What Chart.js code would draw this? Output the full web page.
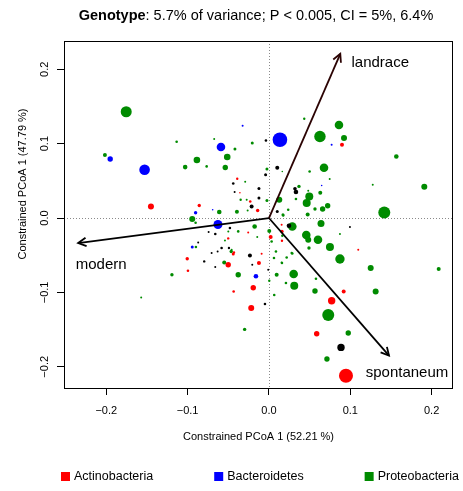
<!DOCTYPE html>
<html>
<head>
<meta charset="utf-8">
<script src="https://cdn.jsdelivr.net/npm/chart.js@4/dist/chart.umd.min.js"></script>
<style>
  html, body { margin: 0; padding: 0; background: #fff; }
</style>
</head>
<body>
<canvas id="pcoa" width="463" height="491"></canvas>
<script>
// --- DATA: constrained PCoA scores [axis1, axis2, bubble radius] per phylum ---
const actinobacteria = [
  [0.0898, 0.0985, 2], [0.0919, -0.0987, 2], [0.0771, -0.1112, 3.7], [0.0587, -0.1555, 2.7],
  [0.0947, -0.2120, 7], [0.1098, -0.0426, 1], [0.0021, -0.0255, 2], [0.0160, -0.0180, 1.7],
  [-0.1451, 0.0156, 3], [-0.0857, 0.0169, 1.7], [-0.0139, 0.0102, 1.7], [-0.1005, -0.0547, 1.7],
  [-0.0996, -0.0708, 1.3], [-0.0501, -0.0628, 2.7], [-0.0193, -0.0937, 2.7], [-0.0434, -0.0987, 1.3],
  [-0.0218, -0.1210, 3], [-0.0123, -0.0605, 2], [-0.0439, -0.0484, 1.5], [-0.0255, -0.0194, 1],
  [-0.0390, 0.0528, 1.2], [-0.0230, 0.0223, 1.3], [-0.0501, -0.0274, 1.2], [-0.0430, -0.0462, 1.2],
  [-0.0090, -0.0480, 1], [0.0160, -0.0305, 1.2], [0.0156, -0.0090, 1], [-0.0357, 0.0340, 0.8]
];
const bacteroidetes = [
  [0.0135, 0.1052, 7.3], [0.0771, 0.0985, 1], [-0.0324, 0.1241, 1], [-0.0590, 0.0954, 4.3],
  [-0.1952, 0.0793, 2.7], [-0.1529, 0.0649, 5.3], [-0.0902, 0.0071, 1.7], [-0.0627, -0.0087, 4.5],
  [-0.0943, -0.0390, 1.5], [-0.0160, -0.0782, 2.3], [-0.0692, 0.0112, 0.8], [0.0648, 0.0438, 0.8]
];
const proteobacteria = [
  [-0.1755, 0.1429, 5.5], [0.0627, 0.1097, 5.7], [0.0861, 0.1250, 4.3], [0.0923, 0.1075, 3],
  [0.1566, 0.0828, 2.3], [0.0677, 0.0676, 4.3], [0.0434, 0.1335, 1.2], [0.1910, 0.0421, 3],
  [0.1276, 0.0448, 1], [0.1418, 0.0075, 6], [0.0496, 0.0290, 4], [0.0464, 0.0202, 4],
  [0.0660, 0.0121, 2.7], [0.0722, 0.0165, 2.7], [0.0631, 0.0340, 2], [0.0500, 0.0626, 1.3],
  [0.0369, 0.0425, 1.7], [0.0287, -0.0113, 4.3], [0.0640, -0.0073, 3.5], [0.0127, 0.0246, 3],
  [-0.0025, 0.0659, 1.5], [0.0172, 0.0044, 1.5], [0.0476, 0.0048, 2], [0.0566, 0.0121, 1.7],
  [0.0747, 0.0524, 1], [0.0459, -0.0228, 4.3], [0.0603, -0.0292, 4.3], [0.0483, -0.0292, 3],
  [0.0750, -0.0390, 4], [0.0873, -0.0551, 4.7], [0.1251, -0.0672, 3], [0.2087, -0.0685, 2],
  [0.0304, -0.0753, 4.3], [0.0311, -0.0910, 4], [0.0566, -0.0981, 2.7], [0.1312, -0.0987, 3],
  [0.0729, -0.1304, 6], [0.0975, -0.1546, 2.7], [0.0713, -0.1895, 2.7], [0.0095, -0.0762, 2],
  [0.0578, -0.0816, 1.3], [0.0209, -0.0874, 1.3], [0.0065, -0.1035, 1.3], [0.0873, -0.0215, 1],
  [0.0492, -0.0403, 1.7], [0.0004, -0.0175, 2], [0.0086, -0.0449, 1.3], [0.0287, -0.0476, 1.3],
  [0.0218, -0.0530, 1.3], [0.0160, -0.0605, 1.3], [-0.1135, 0.1026, 1.3], [-0.0673, 0.1062, 1],
  [-0.0205, 0.1008, 1.5], [-0.0418, 0.0927, 1.5], [-0.0513, 0.0820, 3.3], [-0.2017, 0.0847, 2],
  [-0.0886, 0.0780, 3.3], [-0.1030, 0.0685, 2.3], [-0.0766, 0.0694, 1.3], [-0.0537, 0.0680, 2.7],
  [-0.0611, 0.0081, 2.3], [-0.0394, 0.0085, 2], [-0.0943, -0.0013, 3], [-0.0902, -0.0063, 1.3],
  [-0.0176, -0.0113, 2.3], [-0.0898, -0.0390, 1.3], [-0.1193, -0.0762, 1.7], [-0.1571, -0.1067, 1],
  [-0.0550, -0.0597, 2], [-0.0378, -0.0762, 2.7], [-0.0299, -0.1497, 1.7], [-0.0464, -0.0449, 1.7],
  [-0.0378, -0.0180, 1.3], [-0.0025, 0.0237, 1.5], [-0.0292, 0.0488, 1], [-0.0348, 0.0246, 1.2],
  [-0.0274, 0.0246, 1], [-0.0262, 0.0102, 1], [0.0237, 0.0112, 1.3], [0.0332, 0.0255, 1.3],
  [0.0483, 0.0367, 1], [0.0176, 0.0035, 1.2], [-0.0500, -0.0180, 1], [-0.0144, -0.0255, 1],
  [-0.0541, -0.0301, 1], [0.0033, -0.0315, 1.3], [0.0164, -0.0238, 1.2], [0.0279, -0.0470, 1.2],
  [-0.0459, -0.0426, 1], [0.0062, -0.0538, 1.3], [0.0156, -0.0597, 1], [0.0004, -0.0843, 1.2],
  [0.0164, 0.0626, 0.8]
];
const otherPhyla = [
  [0.0886, -0.1739, 3.7], [0.0320, 0.0394, 1.8], [0.0332, 0.0349, 2.3], [0.0102, 0.0676, 2],
  [-0.0041, 0.0582, 1.5], [-0.0037, 0.1043, 1.3], [0.0102, 0.0089, 1.5], [0.0996, -0.0121, 1],
  [0.0246, -0.0103, 2.3], [-0.0049, -0.1156, 1.3], [-0.0439, 0.0465, 1.3], [-0.0123, 0.0398, 1.5],
  [-0.0123, 0.0269, 1.5], [-0.0213, 0.0156, 2], [-0.0234, -0.0503, 2], [-0.0660, -0.0215, 1.3],
  [-0.0582, -0.0403, 1.3], [-0.0705, -0.0470, 1], [-0.0796, -0.0583, 1.2], [-0.0660, -0.0659, 1],
  [-0.0480, -0.0134, 1.3], [-0.0205, -0.0628, 1], [-0.0422, 0.0349, 1], [-0.0742, -0.0188, 1],
  [-0.0870, -0.0328, 1], [-0.0492, -0.0403, 1.2], [-0.0631, -0.0449, 1], [-0.0009, -0.0695, 1]
];

// genotype vectors (biplot arrows)
const vectorNames = ['landrace', 'modern', 'spontaneum'];
const vectorX = [0.0877, -0.2346, 0.1476];
const vectorY = [0.2208, -0.0336, -0.1850];

const xTicks = [-0.2, -0.1, 0.0, 0.1, 0.2];
const yTicks = [-0.2, -0.1, 0.0, 0.1, 0.2];
const phyla = ['Actinobacteria', 'Bacteroidetes', 'Proteobacteria'];

// --- STYLE ---
const FONT = "'Liberation Sans', Arial, Helvetica, sans-serif";
const RED = '#ff0000', BLUE = '#0000ff', GREEN = '#008b00';
const phylumColors = [RED, BLUE, GREEN];
const arrowColors = ['#2b0303', '#000000', '#000000'];
// label offset from arrow tip, px
const labelOffsets = [[40, 9], [23, 22], [18, 17]];

Chart.defaults.font.family = FONT;
Chart.defaults.color = '#000';

const fmtTick = v => (v < -1e-9 ? '\u2212' : '') + Math.abs(v).toFixed(1);

function bubbles(label, pts, color) {
  return {
    type: 'bubble',
    label: label,
    data: pts.map(p => ({ x: p[0], y: p[1], r: p[2] })),
    backgroundColor: color,
    borderWidth: 0,
    hoverRadius: 0,
    order: 2
  };
}

const arrowSets = vectorNames.map((name, i) => ({
  type: 'line',
  label: name,
  data: [{ x: 0, y: 0 }, { x: vectorX[i], y: vectorY[i] }],
  borderColor: arrowColors[i],
  borderWidth: 1.8,
  pointRadius: 0,
  fill: false,
  order: 0
}));

// dotted zero lines, arrowheads, labels, frame, title, legend
const decorations = {
  id: 'decorations',
  beforeDatasetsDraw(chart) {
    const { ctx, chartArea: a, scales: { x, y } } = chart;
    const x0 = Math.round(x.getPixelForValue(0)) + 0.5;
    const y0 = Math.round(y.getPixelForValue(0)) + 0.5;
    ctx.save();
    ctx.strokeStyle = '#8a8a8a';
    ctx.lineWidth = 1;
    ctx.setLineDash([1, 2]);
    ctx.beginPath();
    ctx.moveTo(x0, a.top); ctx.lineTo(x0, a.bottom);
    ctx.moveTo(a.left, y0); ctx.lineTo(a.right, y0);
    ctx.stroke();
    ctx.restore();
  },
  afterDatasetsDraw(chart) {
    const { ctx } = chart;
    ctx.save();
    arrowSets.forEach((ds, i) => {
      const idx = chart.data.datasets.indexOf(ds);
      const pts = chart.getDatasetMeta(idx).data;
      const p0 = pts[0], p1 = pts[1];
      const ang = Math.atan2(p1.y - p0.y, p1.x - p0.x);
      const len = 9, spread = Math.PI / 6.5;
      ctx.strokeStyle = arrowColors[i];
      ctx.lineWidth = 1.8;
      ctx.beginPath();
      ctx.moveTo(p1.x - len * Math.cos(ang - spread), p1.y - len * Math.sin(ang - spread));
      ctx.lineTo(p1.x, p1.y);
      ctx.lineTo(p1.x - len * Math.cos(ang + spread), p1.y - len * Math.sin(ang + spread));
      ctx.stroke();

      ctx.fillStyle = '#000';
      ctx.font = '15px ' + FONT;
      ctx.textAlign = 'center';
      ctx.textBaseline = 'middle';
      ctx.fillText(vectorNames[i], p1.x + labelOffsets[i][0], p1.y + labelOffsets[i][1]);
    });
    ctx.restore();
  },
  afterDraw(chart) {
    const { ctx, chartArea: a, scales: { y } } = chart;
    ctx.save();
    // frame
    ctx.strokeStyle = '#000';
    ctx.lineWidth = 1;
    ctx.strokeRect(a.left + 0.5, a.top + 0.5, a.right - a.left - 1, a.bottom - a.top);

    // y tick labels, rotated like base R
    ctx.fillStyle = '#000';
    ctx.font = '11px ' + FONT;
    ctx.textAlign = 'center';
    ctx.textBaseline = 'middle';
    yTicks.forEach(v => {
      ctx.save();
      ctx.translate(45, y.getPixelForValue(v));
      ctx.rotate(-Math.PI / 2);
      ctx.fillText(fmtTick(v), 0, 0);
      ctx.restore();
    });

    // y axis title
    ctx.save();
    ctx.translate(23, 184);
    ctx.rotate(-Math.PI / 2);
    ctx.fillText('Constrained PCoA 1 (47.79 %)', 0, 0);
    ctx.restore();

    // title: bold lead word + plain remainder
    const lead = 'Genotype';
    const rest = ': 5.7% of variance; P < 0.005, CI = 5%, 6.4%';
    ctx.textBaseline = 'middle';
    ctx.textAlign = 'left';
    ctx.font = 'bold 14.5px ' + FONT;
    const wLead = ctx.measureText(lead).width;
    ctx.font = '14.5px ' + FONT;
    const wRest = ctx.measureText(rest).width;
    let tx = 256 - (wLead + wRest) / 2;
    ctx.font = 'bold 14.5px ' + FONT;
    ctx.fillText(lead, tx, 16);
    ctx.font = '14.5px ' + FONT;
    ctx.fillText(rest, tx + wLead, 16);

    // legend
    ctx.font = '12.5px ' + FONT;
    let lx = 61;
    phyla.forEach((name, i) => {
      ctx.fillStyle = phylumColors[i];
      ctx.fillRect(lx, 472, 9, 9);
      ctx.fillStyle = '#000';
      ctx.fillText(name, lx + 13, 477);
      lx += 13 + ctx.measureText(name).width + 61;
    });
    ctx.restore();
  }
};

const tickGrid = { drawOnChartArea: false, drawTicks: true, tickLength: 7, color: '#000', lineWidth: 1 };

new Chart(document.getElementById('pcoa'), {
  type: 'bubble',
  data: {
    datasets: [
      ...arrowSets,
      bubbles('Other', otherPhyla, '#000000'),
      bubbles(phyla[0], actinobacteria, RED),
      bubbles(phyla[1], bacteroidetes, BLUE),
      bubbles(phyla[2], proteobacteria, GREEN)
    ]
  },
  options: {
    responsive: false,
    devicePixelRatio: 1,
    animation: false,
    events: [],
    layout: { padding: { top: 41, right: 10, left: 0, bottom: 0 } },
    plugins: { legend: { display: false }, tooltip: { enabled: false }, title: { display: false } },
    scales: {
      x: {
        type: 'linear',
        min: -0.252,
        max: 0.2263,
        afterFit: s => { s.height = 103; },
        afterBuildTicks: s => { s.ticks = xTicks.map(v => ({ value: v })); },
        grid: tickGrid,
        border: { display: false },
        ticks: { font: { size: 11 }, color: '#000', padding: 9, maxRotation: 0, autoSkip: false, callback: fmtTick },
        title: { display: true, text: 'Constrained PCoA 1 (52.21 %)', font: { size: 11 }, color: '#000', padding: { top: 0, bottom: 47 } }
      },
      y: {
        type: 'linear',
        min: -0.2285,
        max: 0.238,
        afterFit: s => { s.width = 64; },
        afterBuildTicks: s => { s.ticks = yTicks.map(v => ({ value: v })); },
        grid: tickGrid,
        border: { display: false },
        ticks: { display: false }
      }
    }
  },
  plugins: [decorations]
});
</script>
</body>
</html>
